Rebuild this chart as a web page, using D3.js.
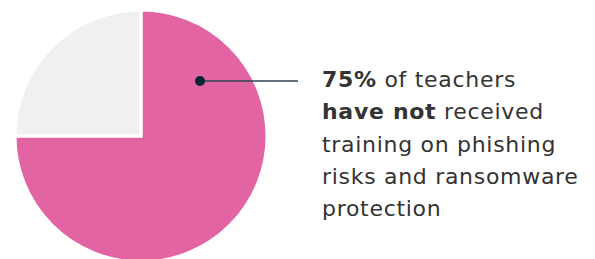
<!DOCTYPE html>
<html lang="en">
<head>
    <meta charset="UTF-8">
    <title>Teachers phishing training</title>
    <script src="https://d3js.org/d3.v7.min.js"></script>
    <style>
        body { margin: 0; background: #fff; }
        #chart text { font-family: "DejaVu Sans", sans-serif; }
    </style>
</head>
<body>
    <div id="chart"></div>
    <script>
        // slices, clockwise from 12 o'clock
        var categories = ["Have not received training", "Have received training"];
        var values = [75, 25];
        var colors = ["#e364a2", "#f0f0f0"];

        // callout text, each line split in bold / regular parts
        var calloutLines = [
            [["75%", true], [" of teachers", false]],
            [["have not", true], [" received", false]],
            [["training on phishing", false]],
            [["risks and ransomware", false]],
            [["protection", false]]
        ];

        var width = 595, height = 259,
            cx = 141, cy = 136, radius = 126;

        var svg = d3.select("#chart").append("svg")
            .attr("width", width)
            .attr("height", height);

        var pie = d3.pie().sort(null).value(d => d);
        var arc = d3.arc().innerRadius(0).outerRadius(radius);

        var g = svg.append("g").attr("transform", "translate(" + cx + "," + cy + ")");

        g.selectAll("path")
            .data(pie(values)).enter().append("path")
            .attr("d", arc)
            .attr("fill", (d, i) => colors[i])
            .attr("stroke", "#fff")
            .attr("stroke-width", 3)
            .attr("stroke-linejoin", "miter");

        // leader line from inside the big slice
        var dotX = 200 - cx, dotY = 81 - cy;
        g.append("line")
            .attr("x1", dotX).attr("y1", dotY)
            .attr("x2", 298 - cx).attr("y2", dotY)
            .attr("stroke", "#2c4656")
            .attr("stroke-width", 1.6);
        g.append("circle")
            .attr("cx", dotX).attr("cy", dotY)
            .attr("r", 5)
            .attr("fill", "#0b2638");

        // callout text
        var txt = svg.append("text")
            .attr("x", 322)
            .attr("y", 87)
            .attr("fill", "#333333")
            .style("font-size", "22px")
            .style("letter-spacing", "0.7px");
        calloutLines.forEach(function(line, i) {
            line.forEach(function(part, j) {
                var ts = txt.append("tspan")
                    .text(part[0])
                    .attr("font-weight", part[1] ? 700 : 400)
                    .attr("xml:space", "preserve");
                if (j === 0) ts.attr("x", 322).attr("y", 87 + i * 32.3);
            });
        });
    </script>
</body>
</html>
